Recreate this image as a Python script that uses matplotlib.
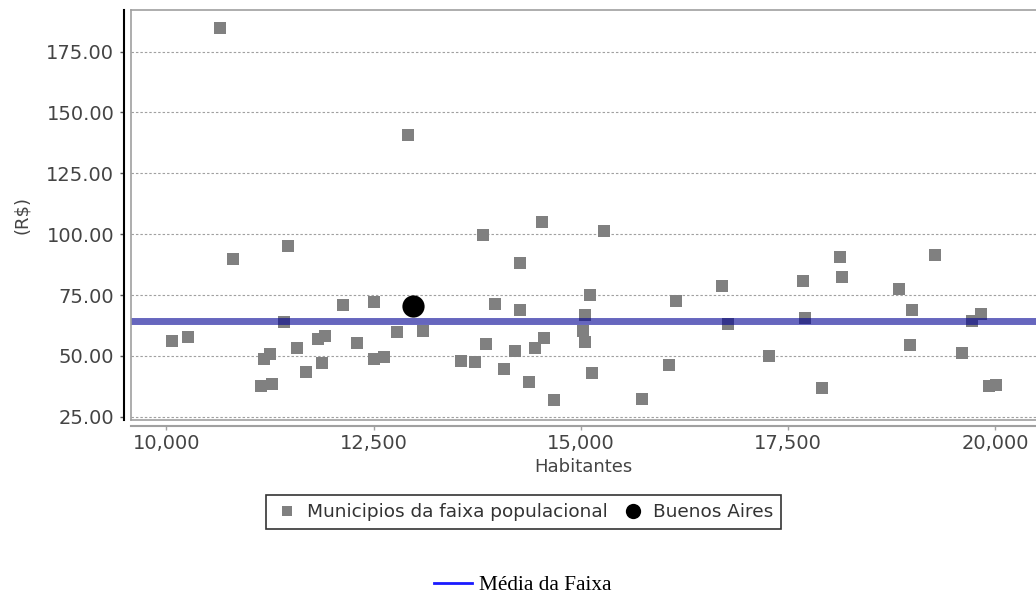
import matplotlib
matplotlib.use("Agg")
import matplotlib.pyplot as plt
from matplotlib.lines import Line2D
from matplotlib.ticker import StrMethodFormatter, FormatStrFormatter

# ---- data ----
pop = [10063, 10256, 10646, 10800, 11141, 11181, 11250, 11271, 11419, 11464,
       11572, 11681, 11833, 11874, 11918, 12132, 12305, 12500, 12502, 12630,
       12780, 12913, 13101, 13557, 13729, 13819, 13859, 13967, 14076, 14205,
       14269, 14269, 14378, 14442, 14531, 14551, 14680, 15027, 15046, 15046,
       15111, 15135, 15284, 15739, 16060, 16150, 16709, 16773, 17268, 17679,
       17703, 17917, 18134, 18154, 18846, 18975, 18995, 19277, 19599, 19728,
       19837, 19926, 20010]
valor = [56.3, 57.7, 184.6, 89.6, 37.5, 48.9, 50.6, 38.3, 63.9, 95.2,
         53.3, 43.2, 57.1, 47.0, 58.2, 70.9, 55.2, 72.1, 48.8, 49.6,
         59.6, 140.6, 60.1, 47.7, 47.5, 99.6, 55.0, 71.4, 44.4, 52.0,
         88.2, 68.8, 39.3, 53.2, 105.2, 57.5, 31.8, 60.1, 66.9, 55.8,
         75.0, 43.0, 101.5, 32.3, 46.2, 72.7, 78.8, 63.2, 50.0, 80.7,
         65.6, 36.7, 90.8, 82.6, 77.4, 54.3, 68.8, 91.4, 51.2, 64.3,
         67.0, 37.5, 38.2]
ba_pop = [12973]
ba_valor = [70.4]
media = 64.3
yticks = [25, 50, 75, 100, 125, 150, 175]
xticks = [10000, 12500, 15000, 17500, 20000]

W, H = 1036, 596
fig = plt.figure(figsize=(W / 100, H / 100), dpi=100)
ax = fig.add_axes([130.7 / W, 1 - 420 / H, (W - 130.7) / W, 410 / H])

ax.set_xlim(9568, 20495)
ax.set_ylim(23.65, 192.1)

# points
ax.plot(pop, valor, linestyle='none', marker='s', markersize=8,
        color='#808080', markeredgewidth=0, zorder=3)
ax.axhline(media, color='#000093', alpha=0.6, linewidth=5.0, zorder=4)
ax.plot(ba_pop, ba_valor, linestyle='none', marker='o', markersize=16,
        color='black', markeredgewidth=0, zorder=5)

# grid
ax.set_yticks(yticks)
ax.set_xticks(xticks)
ax.yaxis.grid(True, color='#a0a0a0', linestyle=(0, (2.2, 1.8)), linewidth=0.8)
ax.set_axisbelow(True)

ax.yaxis.set_major_formatter(FormatStrFormatter('%.2f'))
ax.xaxis.set_major_formatter(StrMethodFormatter('{x:,.0f}'))

# spines
ax.spines['right'].set_visible(False)
ax.spines['top'].set_color('#a0a0a0')
ax.spines['top'].set_linewidth(1.2)
ax.spines['left'].set_position(('outward', 4.8))
ax.spines['left'].set_color('black')
ax.spines['left'].set_linewidth(1.5)
ax.spines['bottom'].set_position(('outward', 4.0))
ax.spines['bottom'].set_color('#a0a0a0')
ax.spines['bottom'].set_linewidth(1.5)
# inner frame lines of the plot area
ax.plot([0, 0], [0, 1], transform=ax.transAxes, color='#a0a0a0',
        linewidth=1.2, clip_on=False, zorder=6)
ax.plot([0, 1], [0, 0], transform=ax.transAxes, color='#a0a0a0',
        linewidth=1.2, clip_on=False, zorder=6)

ax.tick_params(axis='y', direction='out', length=3, width=1, color='#555555',
               labelsize=14, labelcolor='#444444', pad=4)
ax.tick_params(axis='x', direction='out', length=3, width=1, color='#a0a0a0',
               labelsize=14, labelcolor='#444444', pad=3)

ax.set_xlabel('Habitantes', fontsize=13, color='#444444')
ax.xaxis.set_label_coords(0.5, (420 - 467) / 410)
ax.xaxis.label.set_verticalalignment('center')
ax.set_ylabel('(R$)', fontsize=13, color='#444444')
ax.yaxis.set_label_coords((22 - 130.7) / (W - 130.7), (420 - 215) / 410)
ax.yaxis.label.set_verticalalignment('center')

# legend 1
h1 = Line2D([], [], linestyle='none', marker='s', markersize=6.5,
            color='#808080', markeredgewidth=0)
h2 = Line2D([], [], linestyle='none', marker='o', markersize=11,
            color='black', markeredgewidth=0)
leg1 = fig.legend([h1, h2], ['Municipios da faixa populacional', 'Buenos Aires'],
                  loc='center', bbox_to_anchor=(523.5 / W, 1 - 512 / H),
                  ncol=2, fontsize=13.3, frameon=True, fancybox=False,
                  edgecolor='black', handlelength=1.4, handletextpad=0.35,
                  columnspacing=0.7, borderpad=0.42, borderaxespad=0)
leg1.get_frame().set_linewidth(1.2)
for t in leg1.get_texts():
    t.set_color('#333333')

# legend 2
h3 = Line2D([], [], color='#1a1aff', linewidth=2)
leg2 = fig.legend([h3], ['Média da Faixa'], loc='center',
                  bbox_to_anchor=(522.5 / W, 1 - 585 / H), frameon=False,
                  prop={'family': 'Liberation Serif', 'size': 15.3},
                  handlelength=1.8, handletextpad=0.33, borderpad=0,
                  borderaxespad=0)

fig.savefig('out.png', dpi=100)
